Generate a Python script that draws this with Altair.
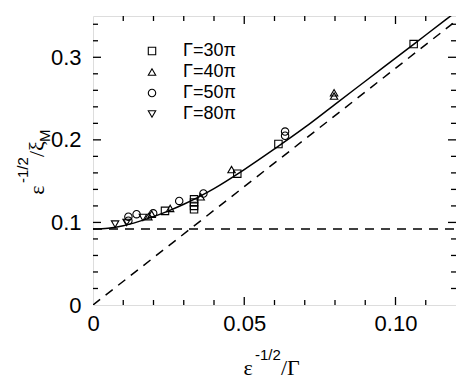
import altair as alt
import pandas as pd

# ---- data ----
series_names = ["Γ=30π", "Γ=40π", "Γ=50π", "Γ=80π"]
shapes = ["square", "triangle-up", "circle", "triangle-down"]

sq_x = [0.106, 0.0613, 0.0477, 0.0334, 0.0334, 0.0334, 0.0334, 0.0238]
sq_y = [0.316, 0.195, 0.159, 0.116, 0.120, 0.124, 0.128, 0.114]
tri_x = [0.0797, 0.0797, 0.0458, 0.0356, 0.0255, 0.0194, 0.0183]
tri_y = [0.253, 0.257, 0.164, 0.131, 0.117, 0.110, 0.107]
circ_x = [0.0635, 0.0635, 0.0365, 0.0285, 0.0199, 0.0144, 0.0117, 0.0117]
circ_y = [0.205, 0.210, 0.135, 0.126, 0.111, 0.110, 0.107, 0.102]
inv_x = [0.0073, 0.0111, 0.0165]
inv_y = [0.098, 0.100, 0.106]

curve_x = [0.0, 0.005, 0.01, 0.015, 0.02, 0.025, 0.03, 0.035, 0.04, 0.05,
           0.06, 0.07, 0.08, 0.09, 0.10, 0.11, 0.12]
curve_y = [0.092, 0.093, 0.096, 0.101, 0.107, 0.114, 0.122, 0.131, 0.141, 0.164,
           0.189, 0.215, 0.243, 0.271, 0.299, 0.327, 0.355]

hdash_x = [0.0, 0.12]
hdash_y = [0.092, 0.092]
ddash_x = [0.0, 0.12]
ddash_y = [0.0, 0.344]

x_major = [0.05, 0.10]
x_minor = [0.01, 0.02, 0.03, 0.04, 0.06, 0.07, 0.08, 0.09, 0.11]
y_major = [0.1, 0.2, 0.3]
y_minor = [0.02, 0.04, 0.06, 0.08, 0.12, 0.14, 0.16, 0.18, 0.22, 0.24,
           0.26, 0.28, 0.32, 0.34]

W, H = 363, 289
XDOM = [0, 0.12]
YDOM = [0, 0.35]

pts = pd.DataFrame({
    "x": sq_x + tri_x + circ_x + inv_x,
    "y": sq_y + tri_y + circ_y + inv_y,
    "s": [series_names[0]] * len(sq_x) + [series_names[1]] * len(tri_x)
         + [series_names[2]] * len(circ_x) + [series_names[3]] * len(inv_x),
})

xs = alt.Scale(domain=XDOM, nice=False, zero=False)
ys = alt.Scale(domain=YDOM, nice=False, zero=False)

LABEL_FONT = "Liberation Sans"

xaxis = alt.Axis(values=[0, 0.05, 0.10], ticks=False, domain=False, grid=False,
                 labelExpr="datum.value == 0 ? '0' : format(datum.value, '.2f')",
                 labelFontSize=22, labelFont=LABEL_FONT, labelColor="black",
                 labelPadding=8, title=None, labelFlush=False)
yaxis = alt.Axis(values=[0, 0.1, 0.2, 0.3], ticks=False, domain=False, grid=False,
                 labelExpr="datum.value == 0 ? '0' : format(datum.value, '.1f')",
                 labelFontSize=22, labelFont=LABEL_FONT, labelColor="black",
                 labelPadding=12, title=None, labelFlush=False)

base_pts = alt.Chart(pts).mark_point(filled=False, size=55, strokeWidth=1.1, opacity=1).encode(
    x=alt.X("x:Q", scale=xs, axis=xaxis),
    y=alt.Y("y:Q", scale=ys, axis=yaxis),
    shape=alt.Shape("s:N", scale=alt.Scale(domain=series_names, range=shapes),
                    legend=alt.Legend(title=None, orient="none", legendX=50, legendY=26,
                                      labelFontSize=18, labelFont=LABEL_FONT,
                                      labelColor="black", symbolSize=55,
                                      symbolStrokeColor="black", symbolStrokeWidth=1.1,
                                      symbolFillColor="transparent",
                                      labelOffset=22, rowPadding=3, padding=0)),
    color=alt.value("black"),
)

curve = alt.Chart(pd.DataFrame({"x": curve_x, "y": curve_y})).mark_line(
    color="black", strokeWidth=1.5, interpolate="monotone", clip=True
).encode(x=alt.X("x:Q", scale=xs), y=alt.Y("y:Q", scale=ys))

hdash = alt.Chart(pd.DataFrame({"x": hdash_x, "y": hdash_y})).mark_line(
    color="black", strokeWidth=1.5, strokeDash=[9, 7], clip=True
).encode(x=alt.X("x:Q", scale=xs), y=alt.Y("y:Q", scale=ys))

ddash = alt.Chart(pd.DataFrame({"x": ddash_x, "y": ddash_y})).mark_line(
    color="black", strokeWidth=1.5, strokeDash=[9, 7], clip=True
).encode(x=alt.X("x:Q", scale=xs), y=alt.Y("y:Q", scale=ys))

def xticks(vals, L):
    d = pd.DataFrame({"t": vals})
    bot = alt.Chart(d).mark_rule(color="black", strokeWidth=1.3).encode(
        x=alt.X("t:Q", scale=xs), y=alt.value(H), y2=alt.value(H - L))
    top = alt.Chart(d).mark_rule(color="black", strokeWidth=1.3).encode(
        x=alt.X("t:Q", scale=xs), y=alt.value(0), y2=alt.value(L))
    return [bot, top]

def yticks(vals, L):
    d = pd.DataFrame({"t": vals})
    lft = alt.Chart(d).mark_rule(color="black", strokeWidth=1.3).encode(
        y=alt.Y("t:Q", scale=ys), x=alt.value(0), x2=alt.value(L))
    rgt = alt.Chart(d).mark_rule(color="black", strokeWidth=1.3).encode(
        y=alt.Y("t:Q", scale=ys), x=alt.value(W), x2=alt.value(W - L))
    return [lft, rgt]

tick_layers = xticks(x_major, 8) + xticks(x_minor, 5) + yticks(y_major, 8) + yticks(y_minor, 5)

def txt(s, x, y, size, font, align="left", angle=0):
    kw = dict(text=s, fontSize=size, font=font, align=align, baseline="middle", color="black")
    if angle:
        kw["angle"] = angle
    return alt.Chart(pd.DataFrame({"a": [0]})).mark_text(**kw).encode(
        x=alt.value(x), y=alt.value(y))

SERIF = "Liberation Serif"
titles = [
    # x title  ε^{-1/2}/Γ
    txt("ε", 155, 352, 22, SERIF, align="center"),
    txt("-1/2", 162, 339, 15, LABEL_FONT),
    txt("/Γ", 188, 352, 22, SERIF),
    # y title  ε^{-1/2}/ξ_M (rotated)
    txt("ε", -56, 174, 22, SERIF, align="center", angle=270),
    txt("-1/2", -70, 167, 15, LABEL_FONT, angle=270),
    txt("/ξ", -56, 141, 22, SERIF, angle=270),
    txt("M", -48, 126, 15, LABEL_FONT, angle=270),
]

chart = alt.layer(hdash, ddash, curve, *tick_layers, *titles, base_pts).properties(
    width=W, height=H,
    autosize=alt.AutoSizeParams(type="none"),
    padding={"left": 85, "top": 8, "right": 0, "bottom": 76},
).configure_view(stroke="black", strokeWidth=1.5).configure(background="white")

chart.save("out.html", embed_options={"renderer": "svg", "actions": False})
